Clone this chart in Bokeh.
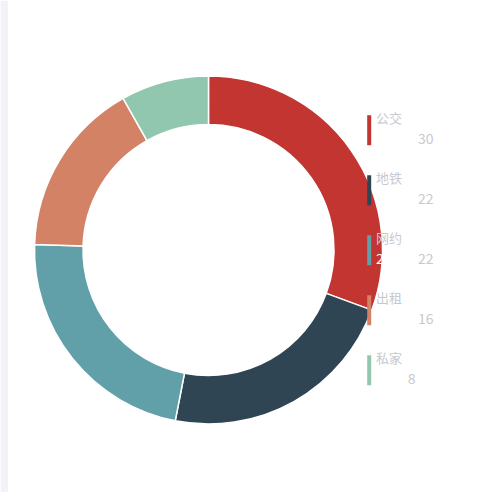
import math
from bokeh.plotting import figure
from bokeh.models import Range1d, ColumnDataSource
from bokeh.core.properties import value
from bokeh.embed import file_html
from bokeh.resources import INLINE

categories = ["公交", "地铁", "网约", "出租", "私家"]
values = [30, 22, 22, 16, 8]
colors = ["#c23531", "#2f4554", "#61a0a8", "#d48265", "#91c7ae"]

W, H = 492, 492
p = figure(width=W, height=H, output_backend="svg", toolbar_location=None,
           x_range=Range1d(0, 492), y_range=Range1d(8, 500),
           min_border=0, outline_line_color=None, background_fill_color="white",
           border_fill_color="white")
p.axis.visible = False
p.grid.visible = False

# light strip at left edge
p.quad(left=[0], right=[7.5], bottom=[0], top=[500], fill_color="#f2f3f8", line_color=None)

cx, cy = 208, 500 - 249.5
R_out, R_in = 174, 125.5
total = sum(values)
starts, ends = [], []
cum = 0
for v in values:
    s = math.pi / 2 - 2 * math.pi * cum / total
    cum += v
    e = math.pi / 2 - 2 * math.pi * cum / total
    starts.append(s)
    ends.append(e)

src = ColumnDataSource(dict(x=[cx] * len(values), y=[cy] * len(values),
                            start=starts, end=ends, color=colors))
p.annular_wedge(x="x", y="y", inner_radius=R_in, outer_radius=R_out,
                start_angle="start", end_angle="end", direction="clock",
                fill_color="color", line_color="white", line_width=1.5, source=src)

# legend
n = len(categories)
bar_x = [368.7] * n
bar_y = [500 - (129.7 + 60 * i) for i in range(n)]
p.rect(x=bar_x, y=bar_y, width=4, height=30, fill_color=colors, line_color=None)

gray = "#c8c9d0"
name_y = [500 - (116.5 + 60 * i) for i in range(n)]
p.text(x=[375.5] * n, y=name_y, text=categories, text_font=value("Noto Sans CJK SC"),
       text_font_size="13px", text_color=gray, text_align="left", text_baseline="middle")

val_right = [433, 433, 433, 433, 415]
val_y = [500 - (138 + 60 * i) for i in range(n)]
p.text(x=val_right, y=val_y, text=[str(v) for v in values], text_font=value("Noto Sans CJK SC"),
       text_font_size="14px", text_color=gray, text_align="right", text_baseline="middle")

# white overlapping label on 网约 item
p.text(x=[375.5], y=[500 - 257.5], text=[str(values[2])], text_font=value("Noto Sans CJK SC"),
       text_font_size="14px", text_color="white", text_align="left", text_baseline="middle")

open("out.html", "w").write(file_html(p, INLINE))
